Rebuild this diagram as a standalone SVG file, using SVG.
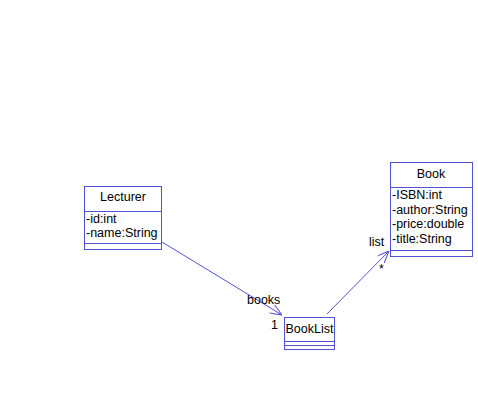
<svg xmlns="http://www.w3.org/2000/svg" width="478" height="409" viewBox="0 0 478 409">
<style>
.box{fill:#fff;stroke:#5252d4;stroke-width:1}
.ln{stroke:#5252d4;stroke-width:1;fill:none}
text{font-family:"Liberation Sans",Arial,sans-serif;font-size:12.5px;fill:#000}
.c{text-anchor:middle}
</style>
<defs>
<marker id="arr" viewBox="0 0 12 10" refX="12" refY="5" markerWidth="12" markerHeight="10" orient="auto" markerUnits="userSpaceOnUse">
<path d="M0,0 L12,5 L0,10" fill="none" stroke="#5252d4" stroke-width="1"/>
</marker>
</defs>
<rect width="478" height="409" fill="#fff"/>
<g id="connectors">
<line class="ln" x1="162" y1="242" x2="282" y2="315" marker-end="url(#arr)"/>
<text x="247" y="304">books</text>
<text x="271" y="329">1</text>
<line class="ln" x1="327" y1="314" x2="389" y2="251" marker-end="url(#arr)"/>
<text x="369" y="246">list</text>
<text x="379" y="273">*</text>
</g>
<g id="Lecturer">
<rect class="box" x="84.5" y="186.5" width="77" height="63"/>
<line class="ln" x1="84" y1="211.5" x2="162" y2="211.5"/>
<line class="ln" x1="84" y1="243.5" x2="162" y2="243.5"/>
<text class="c" x="123" y="201">Lecturer</text>
<text x="86" y="223">-id:int</text>
<text x="86" y="237">-name:String</text>
</g>
<g id="Book">
<rect class="box" x="390.5" y="162.5" width="82" height="94"/>
<line class="ln" x1="390" y1="187.5" x2="473" y2="187.5"/>
<line class="ln" x1="390" y1="250.5" x2="473" y2="250.5"/>
<text class="c" x="431" y="178">Book</text>
<text x="392" y="199">-ISBN:int</text>
<text x="392" y="214">-author:String</text>
<text x="392" y="228">-price:double</text>
<text x="392" y="243">-title:String</text>
</g>
<g id="BookList">
<rect class="box" x="284.5" y="317.5" width="50" height="32"/>
<line class="ln" x1="284" y1="341.5" x2="335" y2="341.5"/>
<line class="ln" x1="284" y1="345.5" x2="335" y2="345.5"/>
<text class="c" x="309.5" y="333">BookList</text>
</g>
</svg>
